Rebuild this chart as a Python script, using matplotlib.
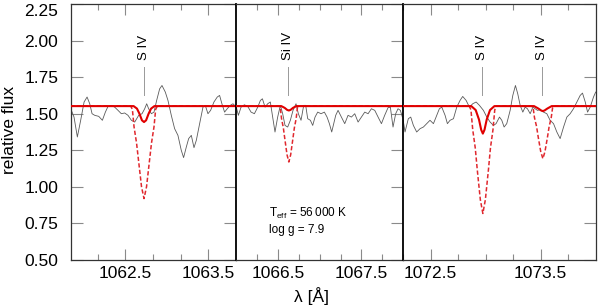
import matplotlib

matplotlib.use("Agg")
import matplotlib.pyplot as plt

plt.rcParams["font.family"] = ["Liberation Sans", "DejaVu Sans"]
plt.rcParams["mathtext.fontset"] = "custom"
plt.rcParams["mathtext.rm"] = "Liberation Sans"

# observed spectrum (grey), one list per panel
p1_wave = [1061.843, 1061.883, 1061.923, 1061.963, 1062.004, 1062.040, 1062.072, 1062.100, 1062.132, 1062.180,
           1062.224, 1062.260, 1062.292, 1062.332, 1062.372, 1062.412, 1062.452, 1062.492, 1062.532, 1062.573,
           1062.613, 1062.661, 1062.701, 1062.733, 1062.757, 1062.781, 1062.813, 1062.845, 1062.877, 1062.913,
           1062.941, 1062.981, 1063.013, 1063.053, 1063.093, 1063.133, 1063.173, 1063.201, 1063.234, 1063.262,
           1063.294, 1063.326, 1063.354, 1063.394, 1063.434, 1063.462, 1063.494, 1063.526, 1063.566, 1063.606,
           1063.634, 1063.662, 1063.694, 1063.726, 1063.762, 1063.795, 1063.835]
p1_flux = [1.534, 1.477, 1.341, 1.455, 1.580, 1.614, 1.568, 1.500, 1.489, 1.482,
           1.455, 1.511, 1.550, 1.557, 1.545, 1.523, 1.500, 1.505, 1.489, 1.455,
           1.443, 1.489, 1.500, 1.534, 1.568, 1.534, 1.500, 1.511, 1.591, 1.670,
           1.693, 1.648, 1.591, 1.489, 1.398, 1.352, 1.250, 1.200, 1.273, 1.330,
           1.352, 1.268, 1.318, 1.432, 1.545, 1.557, 1.500, 1.523, 1.580, 1.614,
           1.625, 1.568, 1.511, 1.534, 1.557, 1.568, 1.545]

p2_wave = [1066.000, 1066.025, 1066.057, 1066.097, 1066.137, 1066.177, 1066.217, 1066.257, 1066.289, 1066.313,
           1066.345, 1066.376, 1066.408, 1066.436, 1066.464, 1066.496, 1066.528, 1066.556, 1066.584, 1066.616,
           1066.648, 1066.680, 1066.716, 1066.744, 1066.776, 1066.808, 1066.832, 1066.856, 1066.888, 1066.916,
           1066.944, 1066.976, 1067.016, 1067.056, 1067.088, 1067.116, 1067.144, 1067.192, 1067.220, 1067.260,
           1067.300, 1067.340, 1067.380, 1067.420, 1067.460, 1067.500, 1067.540, 1067.580, 1067.620, 1067.660,
           1067.700, 1067.740, 1067.779, 1067.819, 1067.847, 1067.879, 1067.911, 1067.939, 1067.967, 1067.991]
p2_flux = [1.545, 1.489, 1.545, 1.561, 1.550, 1.511, 1.500, 1.545, 1.591, 1.602,
           1.545, 1.568, 1.580, 1.477, 1.375, 1.477, 1.557, 1.500, 1.420, 1.409,
           1.455, 1.523, 1.568, 1.500, 1.455, 1.557, 1.557, 1.466, 1.455, 1.420,
           1.477, 1.511, 1.500, 1.511, 1.477, 1.432, 1.375, 1.489, 1.523, 1.477,
           1.432, 1.489, 1.477, 1.500, 1.443, 1.477, 1.511, 1.500, 1.534, 1.523,
           1.477, 1.432, 1.489, 1.541, 1.545, 1.409, 1.500, 1.534, 1.523, 1.477]

p3_wave = [1072.247, 1072.268, 1072.298, 1072.320, 1072.344, 1072.374, 1072.405, 1072.435, 1072.465, 1072.495,
           1072.526, 1072.550, 1072.580, 1072.602, 1072.632, 1072.653, 1072.677, 1072.708, 1072.738, 1072.768,
           1072.792, 1072.823, 1072.853, 1072.883, 1072.914, 1072.944, 1072.980, 1073.011, 1073.041, 1073.071,
           1073.095, 1073.126, 1073.147, 1073.168, 1073.192, 1073.223, 1073.247, 1073.271, 1073.292, 1073.314,
           1073.338, 1073.359, 1073.380, 1073.405, 1073.429, 1073.450, 1073.471, 1073.495, 1073.526, 1073.556,
           1073.586, 1073.617, 1073.647, 1073.677, 1073.708, 1073.738, 1073.768, 1073.798, 1073.829, 1073.859,
           1073.880, 1073.905, 1073.926, 1073.950, 1073.980, 1074.000]
p3_flux = [1.477, 1.375, 1.466, 1.477, 1.420, 1.375, 1.398, 1.409, 1.432, 1.455,
           1.432, 1.477, 1.534, 1.545, 1.489, 1.432, 1.455, 1.466, 1.545, 1.591,
           1.618, 1.591, 1.545, 1.568, 1.580, 1.557, 1.523, 1.477, 1.443, 1.420,
           1.432, 1.477, 1.455, 1.409, 1.432, 1.523, 1.625, 1.693, 1.636, 1.557,
           1.511, 1.545, 1.534, 1.500, 1.545, 1.534, 1.523, 1.527, 1.511, 1.500,
           1.455, 1.432, 1.375, 1.330, 1.409, 1.477, 1.500, 1.534, 1.580, 1.625,
           1.641, 1.580, 1.511, 1.545, 1.614, 1.648]

# model spectra: dashed (red, dashed) and best fit (red, solid)
p1_dash_wave = [1061.84, 1062.565, 1062.585, 1062.605, 1062.635, 1062.659, 1062.695, 1062.725,
                1062.755, 1062.791, 1062.815, 1062.845, 1062.865, 1062.885, 1063.84]
p1_dash_flux = [1.552, 1.552, 1.530, 1.410, 1.300, 1.180, 1.000, 0.920,
                1.000, 1.180, 1.300, 1.410, 1.530, 1.552, 1.552]
p1_fit_wave = [1061.84, 1062.60, 1062.64, 1062.67, 1062.70, 1062.725, 1062.75, 1062.78, 1062.81, 1062.85, 1063.84]
p1_fit_flux = [1.552, 1.552, 1.535, 1.500, 1.455, 1.443, 1.455, 1.500, 1.535, 1.552, 1.552]

p2_dash_wave = [1066.0, 1066.513, 1066.528, 1066.542, 1066.564, 1066.582, 1066.608, 1066.630,
                1066.652, 1066.678, 1066.696, 1066.718, 1066.732, 1066.747, 1068.0]
p2_dash_flux = [1.552, 1.552, 1.539, 1.468, 1.403, 1.327, 1.220, 1.170,
                1.220, 1.327, 1.403, 1.468, 1.539, 1.552, 1.552]
p2_fit_wave = [1066.0, 1066.54, 1066.58, 1066.61, 1066.63, 1066.65, 1066.68, 1066.72, 1068.0]
p2_fit_flux = [1.552, 1.552, 1.540, 1.526, 1.522, 1.526, 1.540, 1.552, 1.552]

p3_dash_wave = [1072.25, 1072.852, 1072.867, 1072.883, 1072.906, 1072.924, 1072.952, 1072.975,
                1072.998, 1073.026, 1073.044, 1073.067, 1073.083, 1073.098,
                1073.419, 1073.432, 1073.444, 1073.463, 1073.478, 1073.501, 1073.520,
                1073.539, 1073.562, 1073.577, 1073.596, 1073.608, 1073.621, 1074.0]
p3_dash_flux = [1.552, 1.552, 1.526, 1.391, 1.266, 1.119, 0.913, 0.818,
                0.913, 1.119, 1.266, 1.391, 1.526, 1.552,
                1.552, 1.539, 1.473, 1.412, 1.340, 1.240, 1.193,
                1.240, 1.340, 1.412, 1.473, 1.539, 1.552, 1.552]
p3_fit_wave = [1072.25, 1072.87, 1072.91, 1072.94, 1072.96, 1072.975, 1072.99, 1073.01, 1073.04, 1073.08,
               1073.44, 1073.48, 1073.505, 1073.52, 1073.535, 1073.56, 1073.60, 1074.0]
p3_fit_flux = [1.552, 1.552, 1.525, 1.460, 1.390, 1.364, 1.390, 1.460, 1.525, 1.552,
               1.552, 1.535, 1.522, 1.518, 1.522, 1.535, 1.552, 1.552]

# line identifications
id_wave = [[1062.72], [1066.625], [1072.97, 1073.515]]
id_label = [["S IV"], ["Si IV"], ["S IV", "S IV"]]

x_limits = [(1061.843, 1063.835), (1066.0, 1067.995), (1072.247, 1074.0)]
x_major = [[1062.5, 1063.5], [1066.5, 1067.5], [1072.5, 1073.5]]
x_minor = [[1062.1667, 1062.8333, 1063.1667],
           [1066.25, 1066.75, 1067.0, 1067.25, 1067.75],
           [1072.25, 1072.75, 1073.0, 1073.25, 1073.75]]
y_ticks = [0.50, 0.75, 1.00, 1.25, 1.50, 1.75, 2.00, 2.25]

obs = [(p1_wave, p1_flux), (p2_wave, p2_flux), (p3_wave, p3_flux)]
dash = [(p1_dash_wave, p1_dash_flux), (p2_dash_wave, p2_dash_flux), (p3_dash_wave, p3_dash_flux)]
fit = [(p1_fit_wave, p1_fit_flux), (p2_fit_wave, p2_fit_flux), (p3_fit_wave, p3_fit_flux)]

W, H = 600, 306
fig = plt.figure(figsize=(W / 100, H / 100), dpi=100)
edges = [70.7, 236.3, 402.7, 595.7]
bottom, top = 260.0, 4.0

axes = []
for i in range(3):
    ax = fig.add_axes([edges[i] / W, 1 - bottom / H,
                       (edges[i + 1] - edges[i]) / W, (bottom - top) / H])
    axes.append(ax)
    ax.plot(*obs[i], color="#5a5a5a", lw=0.6, zorder=2)
    ax.plot(*dash[i], color="#e0282e", lw=1.1, ls=(0, (2.8, 1.5)), zorder=3)
    ax.plot(*fit[i], color="#e00000", lw=1.5, zorder=4)

    for w, lab in zip(id_wave[i], id_label[i]):
        ax.plot([w, w], [1.625, 1.816], color="#999999", lw=0.7, zorder=2)
        ax.text(w, 1.865, lab, rotation=90, ha="center", va="bottom", fontsize=9.5)

    ax.set_xlim(*x_limits[i])
    ax.set_ylim(0.5, 2.25)
    ax.set_xticks(x_major[i])
    ax.set_xticklabels([f"{v:.1f}" for v in x_major[i]])
    ax.set_xticks(x_minor[i], minor=True)
    ax.set_yticks(y_ticks)
    ax.tick_params(axis="both", which="both", direction="in", color="#8a8a8a",
                   width=0.8, top=True, right=True, labelsize=12.5)
    ax.tick_params(axis="x", which="major", length=8, pad=4)
    ax.tick_params(axis="x", which="minor", length=4.5)
    ax.tick_params(axis="y", which="major", length=8.5, pad=9)
    for s in ax.spines.values():
        s.set_color("#333333")
        s.set_linewidth(0.9)
    if i == 0:
        ax.set_yticklabels([f"{v:.2f}" for v in y_ticks])
        ax.get_yticklabels()[-1].set_va("top")
    else:
        ax.tick_params(axis="y", left=False, labelleft=False)
        ax.spines["left"].set_color("black")
        ax.spines["left"].set_linewidth(1.3)

axes[1].text(1066.392, 0.793, "T$_{\\rm eff}$ = 56\u2009000 K", fontsize=8.5, va="baseline")
axes[1].text(1066.392, 0.682, "log g = 7.9", fontsize=8.5, va="baseline")

fig.text(10 / W, 1 - 130 / H, "relative flux", rotation=90, ha="center", va="center", fontsize=12.5)
fig.text(311 / W, 1 - 296 / H, "\u03bb [\u00c5]", ha="center", va="center", fontsize=12.5)

fig.savefig("out.png", dpi=100)
